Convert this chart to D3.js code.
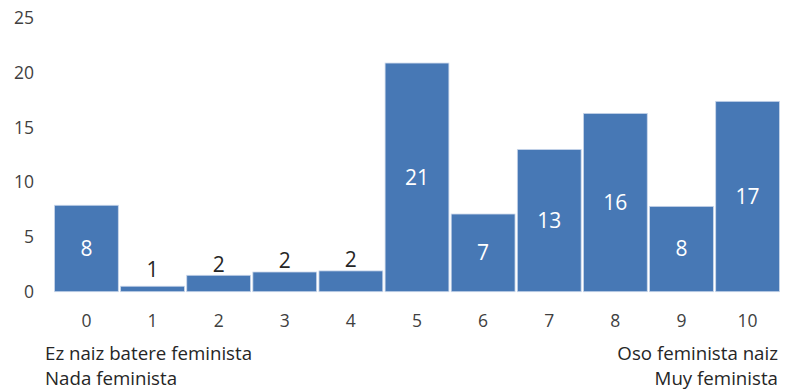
<!DOCTYPE html>
<html><head><meta charset="utf-8">
<script src="https://cdn.jsdelivr.net/npm/d3@7"></script>
<style>
html,body{margin:0;padding:0;background:#fff;}
svg text{font-family:"Open Sans",Lato,sans-serif;}
</style></head>
<body><svg id="c" width="786" height="391"></svg>
<script>
const categories = ["0","1","2","3","4","5","6","7","8","9","10"];
const values = [7.9, 0.5, 1.5, 1.8, 1.9, 20.9, 7.1, 13.0, 16.3, 7.8, 17.4];
const yTicks = [0, 5, 10, 15, 20, 25];
const leftLabels = ["Ez naiz batere feminista", "Nada feminista"];
const rightLabels = ["Oso feminista naiz", "Muy feminista"];

const svg = d3.select("#c");
const x = d3.scaleBand().domain(categories).range([54.5, 779.5]).paddingInner(0.035).paddingOuter(0.0);
const y = d3.scaleLinear().domain([0, 25]).range([291.7, 18.2]);
const blue = "#4778B5";

// y axis labels
svg.append("g").selectAll("text").data(yTicks).join("text")
  .attr("x", 34).attr("y", d => y(d)).attr("dy", "0.35em")
  .attr("text-anchor", "end").attr("font-size", 17.5).attr("fill", "#404040")
  .text(d => d);

// bars
svg.append("g").selectAll("rect").data(values).join("rect")
  .attr("x", (d, i) => x(categories[i]))
  .attr("width", x.bandwidth())
  .attr("y", d => y(d))
  .attr("height", d => y(0) - y(d))
  .attr("fill", blue)
  .attr("stroke", "#c9d6ea").attr("stroke-width", 0.8);

// data labels
svg.append("g").selectAll("text").data(values).join("text")
  .attr("x", (d, i) => x(categories[i]) + x.bandwidth() / 2)
  .attr("y", d => {
    const top = y(d), mid = (y(d) + y(0)) / 2;
    return (y(0) - top) > 30 ? mid : Math.min(mid, top - 11, y(0) - 22);
  })
  .attr("dy", "0.35em").attr("text-anchor", "middle")
  .attr("font-size", 21)
  .attr("fill", d => (y(0) - y(d)) > 30 ? "#ffffff" : "#262626")
  .text(d => Math.round(d));

// x tick labels
svg.append("g").selectAll("text").data(categories).join("text")
  .attr("x", d => x(d) + x.bandwidth() / 2).attr("y", 321).attr("dy", "0.35em")
  .attr("text-anchor", "middle").attr("font-size", 17.5).attr("fill", "#404040")
  .text(d => d);

// end labels
svg.append("g").selectAll("text").data(leftLabels).join("text")
  .attr("x", 45).attr("y", (d, i) => 353 + i * 25).attr("dy", "0.35em")
  .attr("font-size", 18.7).attr("fill", "#262626").text(d => d);
svg.append("g").selectAll("text").data(rightLabels).join("text")
  .attr("x", 778).attr("y", (d, i) => 353 + i * 25).attr("dy", "0.35em")
  .attr("text-anchor", "end")
  .attr("font-size", 18.7).attr("fill", "#262626").text(d => d);
</script></body></html>
